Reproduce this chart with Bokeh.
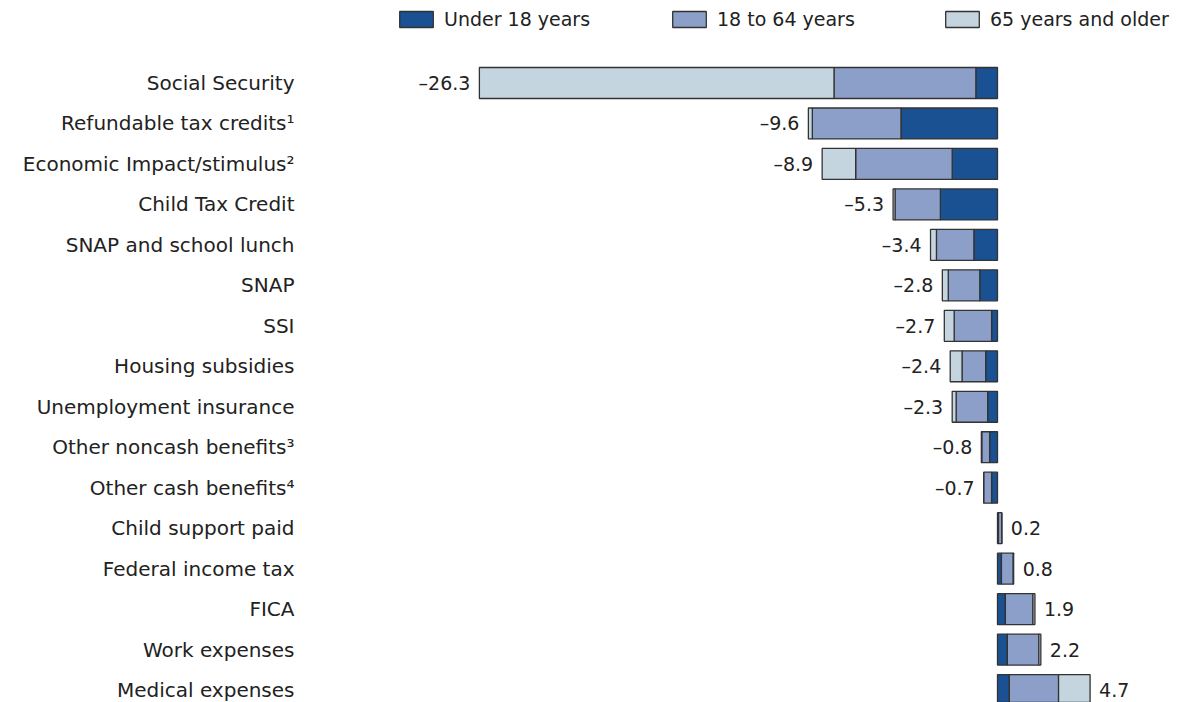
from bokeh.plotting import figure
from bokeh.models import ColumnDataSource, Range1d, Legend
from bokeh.core.properties import value
from bokeh.embed import file_html
from bokeh.resources import INLINE

categories = [
    "Social Security", "Refundable tax credits\u00b9", "Economic Impact/stimulus\u00b2",
    "Child Tax Credit", "SNAP and school lunch", "SNAP", "SSI", "Housing subsidies",
    "Unemployment insurance", "Other noncash benefits\u00b3", "Other cash benefits\u2074",
    "Child support paid", "Federal income tax", "FICA", "Work expenses", "Medical expenses",
]
under18 = [-1.1, -4.9, -2.3, -2.9, -1.2, -0.9, -0.3, -0.6, -0.5, -0.4, -0.3, 0.05, 0.2, 0.4, 0.5, 0.6]
age18_64 = [-7.2, -4.5, -4.9, -2.3, -1.9, -1.6, -1.9, -1.2, -1.6, -0.4, -0.4, 0.17, 0.6, 1.4, 1.6, 2.5]
age65plus = [-18.0, -0.2, -1.7, -0.1, -0.3, -0.3, -0.5, -0.6, -0.2, -0.02, 0.0, 0.0, 0.02, 0.1, 0.1, 1.6]
total_labels = ["\u201326.3", "\u20139.6", "\u20138.9", "\u20135.3", "\u20133.4", "\u20132.8", "\u20132.7",
                "\u20132.4", "\u20132.3", "\u20130.8", "\u20130.7", "0.2", "0.8", "1.9", "2.2", "4.7"]
series_names = ["Under 18 years", "18 to 64 years", "65 years and older"]
colors = ["#1a5192", "#8b9fc9", "#c5d5df"]

FONT = "DejaVu Sans"
W, H = 1178, 702
px_per_unit = 19.7
zero_px = 997
row_px = 40.47
first_row_px = 82.5

x_start = -zero_px / px_per_unit
x_end = (W - zero_px) / px_per_unit
y_bottom = (H - first_row_px) / row_px
y_top = -first_row_px / row_px

ys = list(range(len(categories)))
totals = [a + b + c for a, b, c in zip(under18, age18_64, age65plus)]
source = ColumnDataSource(dict(
    y=ys, cat=categories, u18=under18, a1864=age18_64, o65=age65plus,
    total=totals, lab=total_labels,
    align=["right" if t < 0 else "left" for t in totals],
    xoff=[-9 if t < 0 else 9 for t in totals],
    labx=[x_start] * len(categories),
))

p = figure(width=W, height=H, output_backend="svg", toolbar_location=None,
           x_range=Range1d(x_start, x_end), y_range=Range1d(y_bottom, y_top),
           x_axis_location=None, y_axis_location=None,
           min_border=0, min_border_left=0, min_border_right=0,
           min_border_top=0, min_border_bottom=0)
p.outline_line_color = None
p.xgrid.visible = False
p.ygrid.visible = False
p.background_fill_color = "white"

renderers = p.hbar_stack(["u18", "a1864", "o65"], y="y", height=0.765, color=colors,
                         line_color="#333333", line_width=1.3, source=source)

p.text(x="labx", y="y", text="cat", source=source, x_offset=294,
       text_align="right", text_baseline="middle",
       text_font=value(FONT), text_font_size="20px", text_color="#222222")
p.text(x="total", y="y", text="lab", source=source, x_offset="xoff",
       text_align="align", text_baseline="middle",
       text_font=value(FONT), text_font_size="19px", text_color="#222222")

legend = Legend(items=[(n, [r]) for n, r in zip(series_names, renderers)],
                orientation="horizontal", location=(395, H - 30),
                glyph_width=42, glyph_height=20, label_standoff=7,
                label_width=224, spacing=0, padding=0, margin=0,
                border_line_color=None, background_fill_alpha=0,
                label_text_font=FONT, label_text_font_size="19px",
                label_text_color="#222222", label_height=20)
p.add_layout(legend, "center")

open("out.html", "w").write(file_html(p, INLINE))
